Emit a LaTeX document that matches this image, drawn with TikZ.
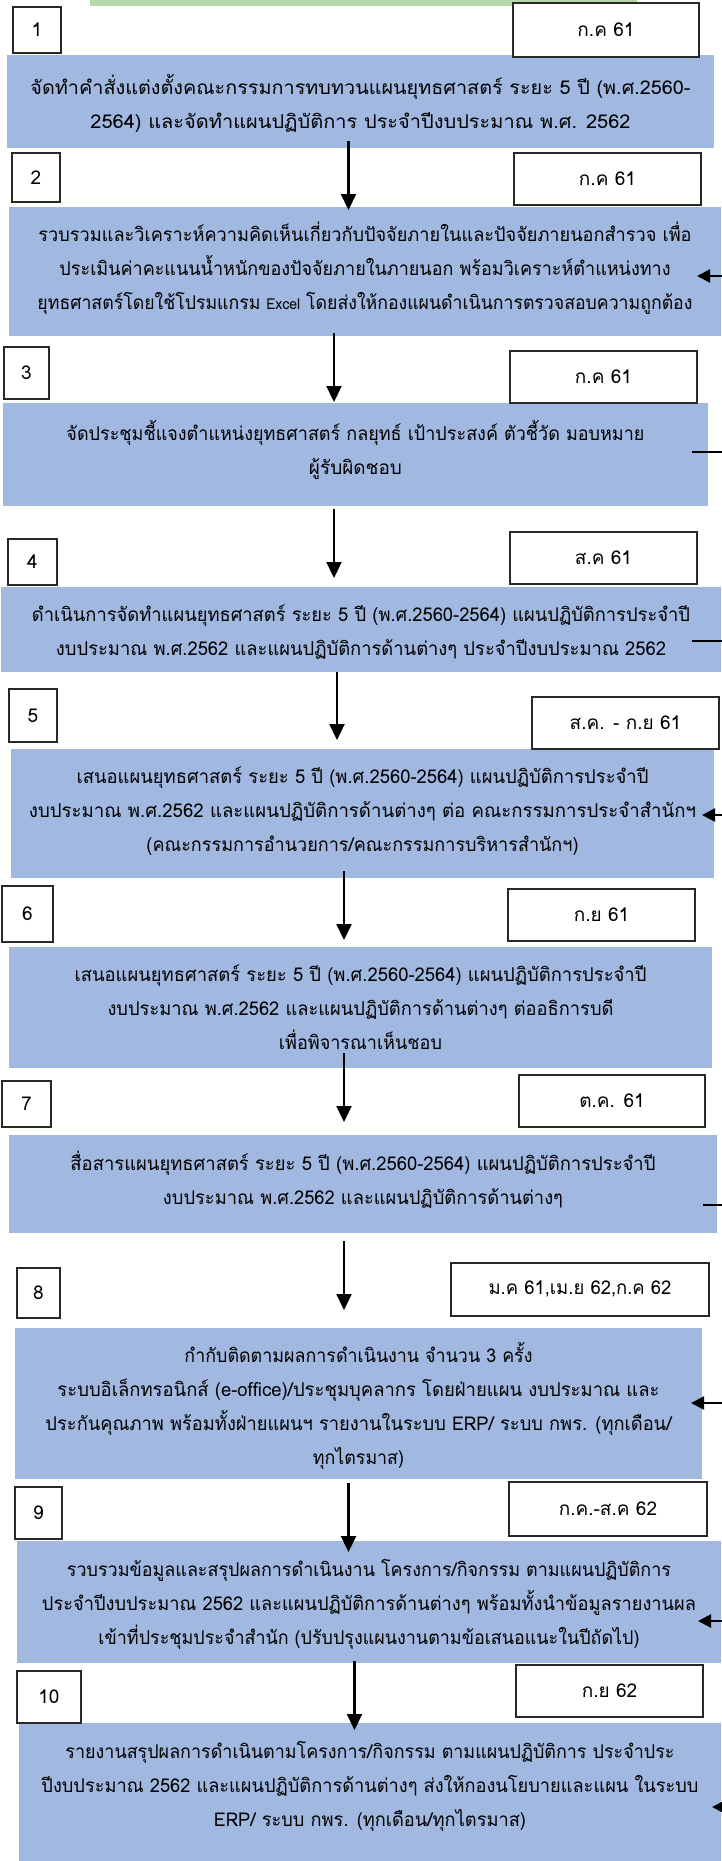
\documentclass[tikz,border=0pt]{standalone}
\usepackage{fontspec}
\usepackage{graphicx}
\newfontfamily\thaifont[Script=Thai]{Loma}
\usetikzlibrary{arrows.meta}
\definecolor{boxblue}{RGB}{161,184,224}
\definecolor{bargreen}{RGB}{182,215,168}
\definecolor{edgegray}{RGB}{40,40,40}
\newcommand\fitline[2]{\resizebox{#1pt}{\height}{#2}}
\tikzset{
  bluebox/.style={fill=boxblue, draw=none, inner sep=0pt, outer sep=0pt, anchor=north west},
  numbox/.style={draw=edgegray, line width=1.2pt, fill=white, inner sep=0pt, outer sep=0pt, anchor=north west, font=\thaifont\fontsize{19}{22}\selectfont},
  datebox/.style={draw=edgegray, line width=1.2pt, fill=white, inner sep=0pt, outer sep=0pt, anchor=north west, font=\thaifont\fontsize{19}{22}\selectfont},
  bodytext/.style={align=center, inner sep=0pt, font=\thaifont\fontsize{19}{34}\selectfont},
  flowarrow/.style={line width=2.2pt, -{Triangle[length=16pt,width=15pt]}},
  sidearrow/.style={line width=2.2pt, -{Triangle[length=13pt,width=13pt]}},
  sidestub/.style={line width=2.2pt}
}
\begin{document}
\begin{tikzpicture}[x=1pt,y=-1pt]
\useasboundingbox (0,0) rectangle (721,1861);
% green bar
\fill[bargreen] (90,0) rectangle (637,6);
% blue boxes
\node[bluebox, minimum width=707pt, minimum height=93pt] (b1) at (7,55) {};
\node[bluebox, minimum width=712pt, minimum height=129pt] (b2) at (9,207) {};
\node[bluebox, minimum width=705pt, minimum height=103pt] (b3) at (3,403) {};
\node[bluebox, minimum width=720pt, minimum height=85pt] (b4) at (1,587) {};
\node[bluebox, minimum width=703pt, minimum height=129pt] (b5) at (11,749) {};
\node[bluebox, minimum width=703pt, minimum height=121pt] (b6) at (9,947) {};
\node[bluebox, minimum width=708pt, minimum height=98pt] (b7) at (9,1135) {};
\node[bluebox, minimum width=687pt, minimum height=151pt] (b8) at (15,1328) {};
\node[bluebox, minimum width=704pt, minimum height=122pt] (b9) at (17,1541) {};
\node[bluebox, minimum width=702pt, minimum height=138pt] (b10) at (19,1723) {};
% texts
\node[bodytext] (t1) at ([yshift=-2pt]b1.center) {\fitline{660}{จัดทำคำสั่งแต่งตั้งคณะกรรมการทบทวนแผนยุทธศาสตร์ ระยะ 5 ปี (พ.ศ.2560-}\\\fitline{540}{2564) และจัดทำแผนปฏิบัติการ ประจำปีงบประมาณ พ.ศ. 2562}};
\node[bodytext] (t2) at ([yshift=3pt]b2.center) {\fitline{653}{รวบรวมและวิเคราะห์ความคิดเห็นเกี่ยวกับปัจจัยภายในและปัจจัยภายนอกสำรวจ เพื่อ}\\\fitline{611}{ประเมินค่าคะแนนน้ำหนักของปัจจัยภายในภายนอก พร้อมวิเคราะห์ตำแหน่งทาง}\\\fitline{655}{ยุทธศาสตร์โดยใช้โปรมแกรม {\fontsize{15}{34}\selectfont Excel} โดยส่งให้กองแผนดำเนินการตรวจสอบความถูกต้อง}};
\node[bodytext] (t3) at ([yshift=5pt]b3.center) {\fitline{578}{จัดประชุมชี้แจงตำแหน่งยุทธศาสตร์ กลยุทธ์ เป้าประสงค์ ตัวชี้วัด มอบหมาย}\\\fitline{93}{ผู้รับผิดชอบ}};
\node[bodytext] (t4) at ([yshift=-3pt]b4.center) {\fitline{658}{ดำเนินการจัดทำแผนยุทธศาสตร์ ระยะ 5 ปี (พ.ศ.2560-2564) แผนปฏิบัติการประจำปี}\\\fitline{610}{งบประมาณ พ.ศ.2562 และแผนปฏิบัติการด้านต่างๆ ประจำปีงบประมาณ 2562}};
\node[bodytext] (t5) at ([yshift=2pt]b5.center) {\fitline{572}{เสนอแผนยุทธศาสตร์ ระยะ 5 ปี (พ.ศ.2560-2564) แผนปฏิบัติการประจำปี}\\\fitline{667}{งบประมาณ พ.ศ.2562 และแผนปฏิบัติการด้านต่างๆ ต่อ คณะกรรมการประจำสำนักฯ}\\\fitline{432}{(คณะกรรมการอำนวยการ/คณะกรรมการบริหารสำนักฯ)}};
\node[bodytext] (t6) at (b6.center) {\fitline{572}{เสนอแผนยุทธศาสตร์ ระยะ 5 ปี (พ.ศ.2560-2564) แผนปฏิบัติการประจำปี}\\\fitline{506}{งบประมาณ พ.ศ.2562 และแผนปฏิบัติการด้านต่างๆ ต่ออธิการบดี}\\\fitline{163}{เพื่อพิจารณาเห็นชอบ}};
\node[bodytext] (t7) at ([yshift=4pt]b7.center) {\fitline{585}{สื่อสารแผนยุทธศาสตร์ ระยะ 5 ปี (พ.ศ.2560-2564) แผนปฏิบัติการประจำปี}\\\fitline{400}{งบประมาณ พ.ศ.2562 และแผนปฏิบัติการด้านต่างๆ}};
\node[bodytext] (t8) at ([yshift=-2pt]b8.center) {\fitline{348}{กำกับติดตามผลการดำเนินงาน จำนวน 3 ครั้ง}\\\fitline{602}{ระบบอิเล็กทรอนิกส์ (e-office)/ประชุมบุคลากร โดยฝ่ายแผน งบประมาณ และ}\\\fitline{626}{ประกันคุณภาพ พร้อมทั้งฝ่ายแผนฯ รายงานในระบบ ERP/ ระบบ กพร. (ทุกเดือน/}\\\fitline{91}{ทุกไตรมาส)}};
\node[bodytext] (t9) at ([yshift=-2pt]b9.center) {\fitline{604}{รวบรวมข้อมูลและสรุปผลการดำเนินงาน โครงการ/กิจกรรม ตามแผนปฏิบัติการ}\\\fitline{654}{ประจำปีงบประมาณ 2562 และแผนปฏิบัติการด้านต่างๆ พร้อมทั้งนำข้อมูลรายงานผล}\\\fitline{541}{เข้าที่ประชุมประจำสำนัก (ปรับปรุงแผนงานตามข้อเสนอแนะในปีถัดไป)}};
\node[bodytext] (t10) at ([yshift=6pt]b10.center) {\fitline{609}{รายงานสรุปผลการดำเนินตามโครงการ/กิจกรรม ตามแผนปฏิบัติการ ประจำประ}\\\fitline{657}{ปีงบประมาณ 2562 และแผนปฏิบัติการด้านต่างๆ ส่งให้กองนโยบายและแผน ในระบบ}\\\fitline{312}{ERP/ ระบบ กพร. (ทุกเดือน/ทุกไตรมาส)}};
% number boxes
\node[numbox, minimum width=48pt, minimum height=46pt] (n1) at (13,7) {\raisebox{-4pt}{1}};
\node[numbox, minimum width=48pt, minimum height=49pt] (n2) at (12,153) {\raisebox{-4pt}{2}};
\node[numbox, minimum width=45pt, minimum height=52pt] (n3) at (4,347) {\raisebox{-4pt}{3}};
\node[numbox, minimum width=49pt, minimum height=46pt] (n4) at (8,539) {\raisebox{-5pt}{4}};
\node[numbox, minimum width=48pt, minimum height=53pt] (n5) at (9,689) {\raisebox{-1pt}{5}};
\node[numbox, minimum width=51pt, minimum height=56pt] (n6) at (2,886) {\raisebox{-1pt}{6}};
\node[numbox, minimum width=49pt, minimum height=46pt] (n7) at (2,1081) {\raisebox{-4pt}{7}};
\node[numbox, minimum width=43pt, minimum height=50pt] (n8) at (17,1268) {\raisebox{-3pt}{8}};
\node[numbox, minimum width=47pt, minimum height=52pt] (n9) at (15,1487) {\raisebox{-3pt}{9}};
\node[numbox, minimum width=64pt, minimum height=52pt] (n10) at (17,1671) {\raisebox{-3pt}{10}};
% date boxes
\node[datebox, minimum width=186pt, minimum height=54pt] (d1) at (513,3) {\raisebox{-3pt}{ก.ค 61}};
\node[datebox, minimum width=187pt, minimum height=52pt] (d2) at (514,153) {\raisebox{-4pt}{ก.ค 61}};
\node[datebox, minimum width=187pt, minimum height=52pt] (d3) at (510,351) {\raisebox{-4pt}{ก.ค 61}};
\node[datebox, minimum width=187pt, minimum height=52pt] (d4) at (510,532) {\raisebox{-2pt}{ส.ค 61}};
\node[datebox, minimum width=187pt, minimum height=52pt] (d5) at (532,697) {\raisebox{-3pt}{ส.ค. - ก.ย 61}};
\node[datebox, minimum width=187pt, minimum height=52pt] (d6) at (508,889) {\raisebox{-3pt}{ก.ย 61}};
\node[datebox, minimum width=186pt, minimum height=52pt] (d7) at (519,1075) {\raisebox{-3pt}{ต.ค. 61}};
\node[datebox, minimum width=258pt, minimum height=53pt] (d8) at (451,1263) {\raisebox{-3pt}{\fitline{183}{ม.ค 61,เม.ย 62,ก.ค 62}}};
\node[datebox, minimum width=198pt, minimum height=54pt] (d9) at (509,1482) {\raisebox{-3pt}{ก.ค.-ส.ค 62}};
\node[datebox, minimum width=187pt, minimum height=52pt] (d10) at (516,1665) {\raisebox{-3pt}{ก.ย 62}};
% down arrows
\coordinate (s1) at (348.5,141); \coordinate (e1) at (348.5,210);
\coordinate (s2) at (334,333);   \coordinate (e2) at (334,402);
\coordinate (s3) at (334,509);   \coordinate (e3) at (334,578);
\coordinate (s4) at (337,672);   \coordinate (e4) at (337,740);
\coordinate (s5) at (344,871);   \coordinate (e5) at (344,940);
\coordinate (s6) at (344,1053);  \coordinate (e6) at (344,1122);
\coordinate (s7) at (344,1241);  \coordinate (e7) at (344,1310);
\coordinate (s8) at (348.5,1483); \coordinate (e8) at (348.5,1552);
\coordinate (s9) at (354.5,1661); \coordinate (e9) at (354.5,1730);
\foreach \i in {1,...,9} { \draw[flowarrow] (s\i) -- (e\i); }
% right side connectors
\coordinate (r2) at (730,276);  \coordinate (q2) at (697,276);
\coordinate (r5) at (730,815);  \coordinate (q5) at (702,815);
\coordinate (r8) at (730,1403); \coordinate (q8) at (691,1403);
\coordinate (r9) at (730,1621); \coordinate (q9) at (698,1621);
\coordinate (r10) at (740,1807); \coordinate (q10) at (712,1807);
\foreach \i in {2,5,8,9,10} { \draw[sidearrow] (r\i) -- (q\i); }
\coordinate (r3) at (730,452);  \coordinate (q3) at (692,452);
\coordinate (r4) at (730,641);  \coordinate (q4) at (692,641);
\coordinate (r7) at (730,1205); \coordinate (q7) at (703,1205);
\foreach \i in {3,4,7} { \draw[sidestub] (r\i) -- (q\i); }
\end{tikzpicture}
\end{document}
